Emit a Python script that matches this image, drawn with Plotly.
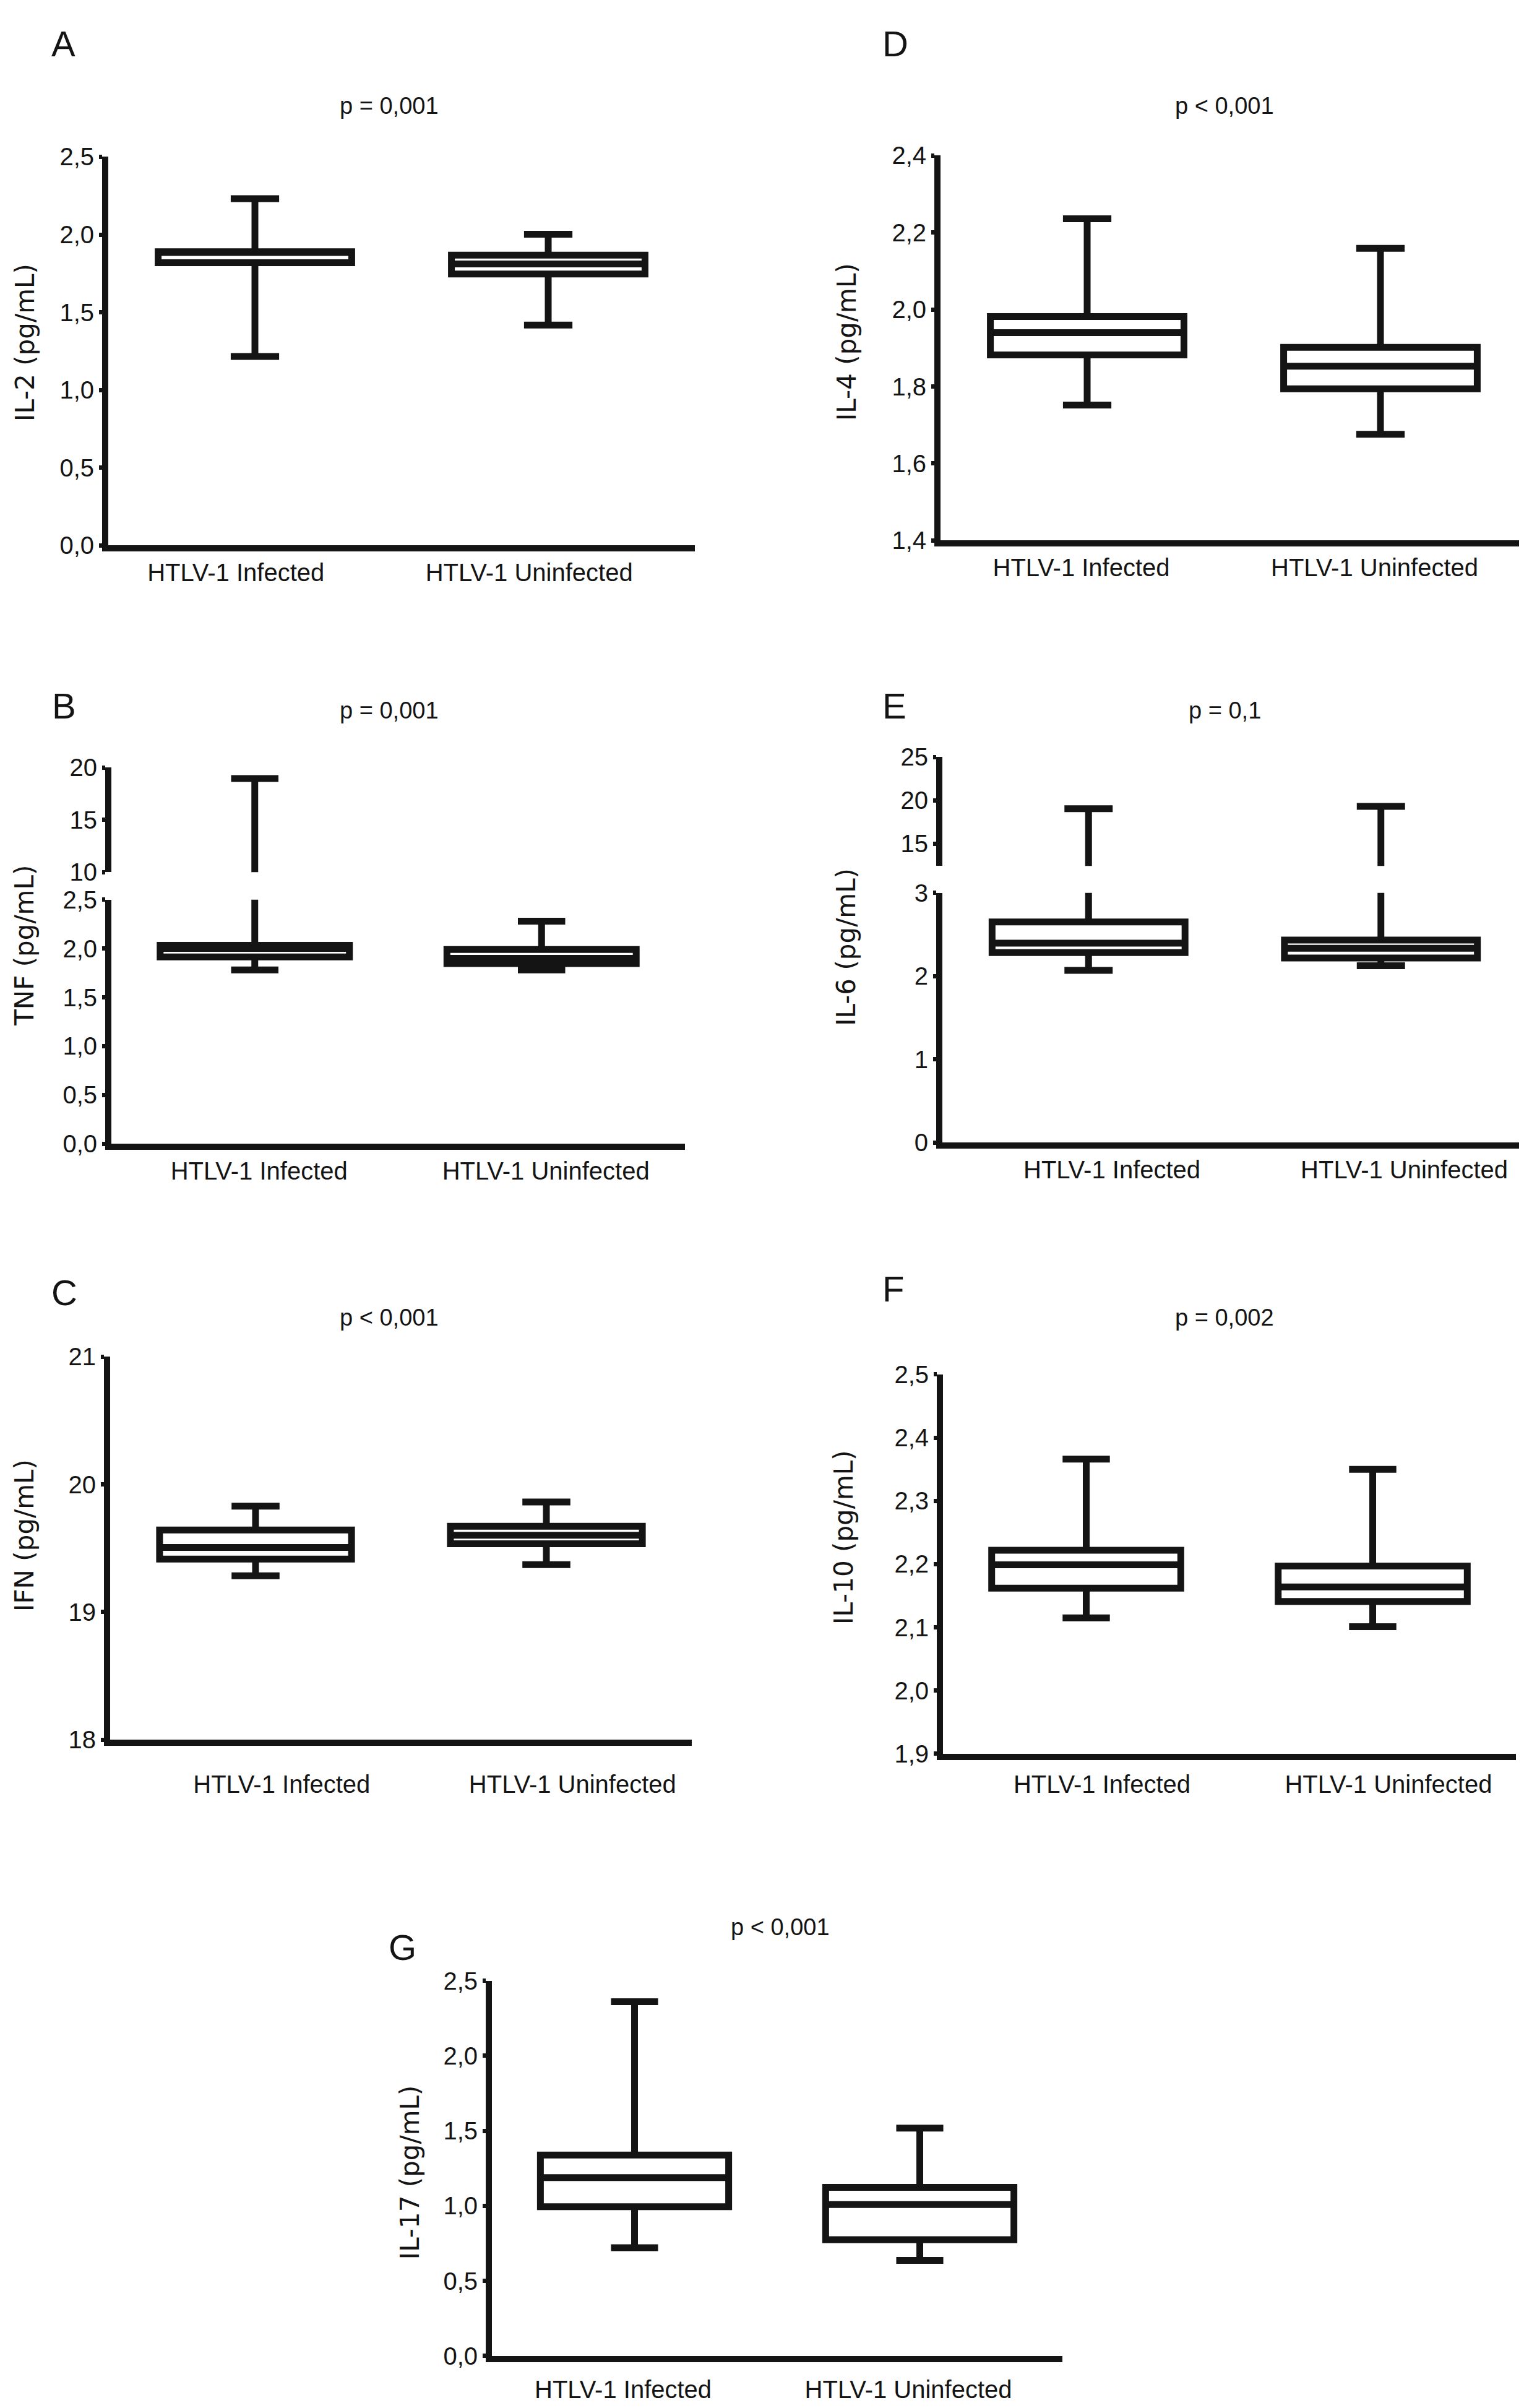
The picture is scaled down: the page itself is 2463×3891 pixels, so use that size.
import plotly.graph_objects as go

W, H = 2463, 3891

groups = ["HTLV-1 Infected", "HTLV-1 Uninfected"]

# A - IL-2
il2_low = [1.216, 1.418]
il2_q1 = [1.819, 1.746]
il2_med = [1.885, 1.811]
il2_q3 = [1.890, 1.868]
il2_high = [2.231, 2.002]

# B - TNF (broken axis)
tnf_low = [1.78, 1.78]
tnf_q1 = [1.914, 1.845]
tnf_med = [2.00, 1.90]
tnf_q3 = [2.033, 1.989]
tnf_high = [18.95, 2.28]

# C - IFN
ifn_low = [19.284, 19.371]
ifn_q1 = [19.415, 19.535]
ifn_med = [19.506, 19.602]
ifn_q3 = [19.643, 19.672]
ifn_high = [19.83, 19.862]

# D - IL-4
il4_low = [1.752, 1.676]
il4_q1 = [1.882, 1.794]
il4_med = [1.940, 1.853]
il4_q3 = [1.982, 1.902]
il4_high = [2.236, 2.159]

# E - IL-6 (broken axis)
il6_low = [2.07, 2.125]
il6_q1 = [2.283, 2.217]
il6_med = [2.397, 2.335]
il6_q3 = [2.651, 2.434]
il6_high = [19.03, 19.3]

# F - IL-10
il10_low = [2.115, 2.101]
il10_q1 = [2.162, 2.141]
il10_med = [2.199, 2.164]
il10_q3 = [2.222, 2.197]
il10_high = [2.366, 2.350]

# G - IL-17
il17_low = [0.721, 0.636]
il17_q1 = [0.994, 0.775]
il17_med = [1.188, 1.009]
il17_q3 = [1.339, 1.123]
il17_high = [2.361, 1.518]

p_texts = ["p = 0,001", "p = 0,001", "p < 0,001", "p < 0,001", "p = 0,1", "p = 0,002", "p < 0,001"]
y_titles = ["IL-2 (pg/mL)", "TNF (pg/mL)", "IFN (pg/mL)", "IL-4 (pg/mL)", "IL-6 (pg/mL)", "IL-10 (pg/mL)", "IL-17 (pg/mL)"]
letters = ["A", "B", "C", "D", "E", "F", "G"]

FONT = "Liberation Sans, Arial, Helvetica, sans-serif"
TITLE_FONT = "DejaVu Sans, Verdana, sans-serif"
INK = "#141414"


def fx(px):
    return px / W


def fy(py):
    return 1 - py / H


# layout of each panel in pixels: x span, y spans (top, bottom), ranges, ticks
panels = [
    dict(stats=(il2_low, il2_q1, il2_med, il2_q3, il2_high), x=(167, 1115), shift=-0.065, std=0,
         segs=[((226, 861), [0, 2.5], [0, 0.5, 1.0, 1.5, 2.0, 2.5], ".1f")],
         letter=(94, 41), p=(621, 143), title=(32, 530)),
    dict(stats=(tnf_low, tnf_q1, tnf_med, tnf_q3, tnf_high), x=(172, 1099), shift=0.015, std=0,
         segs=[((1440, 1839), [0, 2.5], [0, 0.5, 1.0, 1.5, 2.0, 2.5], ".1f"),
               ((1224, 1395), [10, 20], [10, 15, 20], ".0f")],
         letter=(95, 1123), p=(621, 1131), title=(32, 1515)),
    dict(stats=(ifn_low, ifn_q1, ifn_med, ifn_q3, ifn_high), x=(170, 1110), shift=0.09, std=28,
         segs=[((2187, 2813), [18, 21], [18, 19, 20, 21], ".0f")],
         letter=(96, 2082), p=(621, 2123), title=(32, 2479)),
    dict(stats=(il4_low, il4_q1, il4_med, il4_q3, il4_high), x=(1512, 2460), shift=-0.02, std=0,
         segs=[((224, 853), [1.4, 2.4], [1.4, 1.6, 1.8, 2.0, 2.2, 2.4], ".1f")],
         letter=(1439, 41), p=(1971, 143), title=(1360, 529)),
    dict(stats=(il6_low, il6_q1, il6_med, il6_q3, il6_high), x=(1515, 2460), shift=0.08, std=0,
         segs=[((1429, 1837), [0, 3], [0, 1, 2, 3], ".0f"),
               ((1207, 1385), [12.4, 25], [15, 20, 25], ".0f")],
         letter=(1437, 1123), p=(1971, 1131), title=(1360, 1518)),
    dict(stats=(il10_low, il10_q1, il10_med, il10_q3, il10_high), x=(1516, 2442), shift=0.055, std=5,
         segs=[((2216, 2836), [1.9, 2.5], [1.9, 2.0, 2.1, 2.2, 2.3, 2.4, 2.5], ".1f")],
         letter=(1435, 2076), p=(1971, 2123), title=(1356, 2482)),
    dict(stats=(il17_low, il17_q1, il17_med, il17_q3, il17_high), x=(787, 1709), shift=-0.04, std=10,
         segs=[((3207, 3820), [0, 2.5], [0, 0.5, 1.0, 1.5, 2.0, 2.5], ".1f")],
         letter=(642, 3152), p=(1253, 3119), title=(654, 3520)),
]

fig = go.Figure()
layout = {}
annotations = []
ny = 0

for i, pan in enumerate(panels):
    xk = "x" if i == 0 else f"x{i + 1}"
    xname = "xaxis" if i == 0 else f"xaxis{i + 1}"
    low, q1, med, q3, high = pan["stats"]
    first_y = None
    # broken axes: same boxes drawn in each segment, clipped by the segment range
    for j, (ypx, rng, tv, fmt) in enumerate(pan["segs"]):
        ny += 1
        yk = "y" if ny == 1 else f"y{ny}"
        yname = "yaxis" if ny == 1 else f"yaxis{ny}"
        if j == 0:
            first_y = yk
        layout[yname] = dict(
            domain=[fy(ypx[1]), fy(ypx[0])], range=rng, anchor=xk,
            tickvals=tv, tickformat=fmt,
            showline=True, linewidth=10, linecolor=INK,
            ticks="outside", ticklen=5, tickwidth=7, tickcolor=INK,
            showgrid=False, zeroline=False,
            tickfont=dict(size=40, family=FONT, color=INK),
        )
        fig.add_trace(go.Box(
            x=[0, 1], q1=q1, median=med, q3=q3, lowerfence=low, upperfence=high,
            xaxis=xk, yaxis=yk, width=0.66, whiskerwidth=0.25,
            line=dict(color=INK, width=11), fillcolor="white",
            boxpoints=False, showlegend=False, hoverinfo="skip",
        ))
    layout[xname] = dict(
        domain=[fx(pan["x"][0]), fx(pan["x"][1])], range=[-0.5, 1.5], anchor=first_y,
        tickvals=[0 + pan["shift"], 1 + pan["shift"]], ticktext=groups,
        showline=True, linewidth=10, linecolor=INK, ticks="",
        ticklabelstandoff=pan["std"],
        showgrid=False, zeroline=False,
        tickfont=dict(size=40, family=FONT, color=INK),
    )

    lx, ly = pan["letter"]
    annotations.append(dict(text=letters[i], x=fx(lx), y=fy(ly), xref="paper", yref="paper",
                            showarrow=False, xanchor="center", yanchor="middle",
                            font=dict(size=58, family=FONT, color=INK)))
    px_, py_ = pan["p"]
    annotations.append(dict(text=p_texts[i], x=fx(px_), y=fy(py_), xref="paper", yref="paper",
                            showarrow=False, xanchor="center", yanchor="middle",
                            font=dict(size=38, family=FONT, color=INK)))
    tx, ty = pan["title"]
    annotations.append(dict(text=y_titles[i], x=fx(tx), y=fy(ty), xref="paper", yref="paper",
                            showarrow=False, xanchor="center", yanchor="middle", textangle=-90,
                            font=dict(size=42, family=TITLE_FONT, color=INK)))

fig.update_layout(
    width=W, height=H,
    margin=dict(l=0, r=0, t=0, b=0),
    paper_bgcolor="white", plot_bgcolor="white",
    separators=",.",
    annotations=annotations,
    **layout,
)

fig.write_html("out.html")
